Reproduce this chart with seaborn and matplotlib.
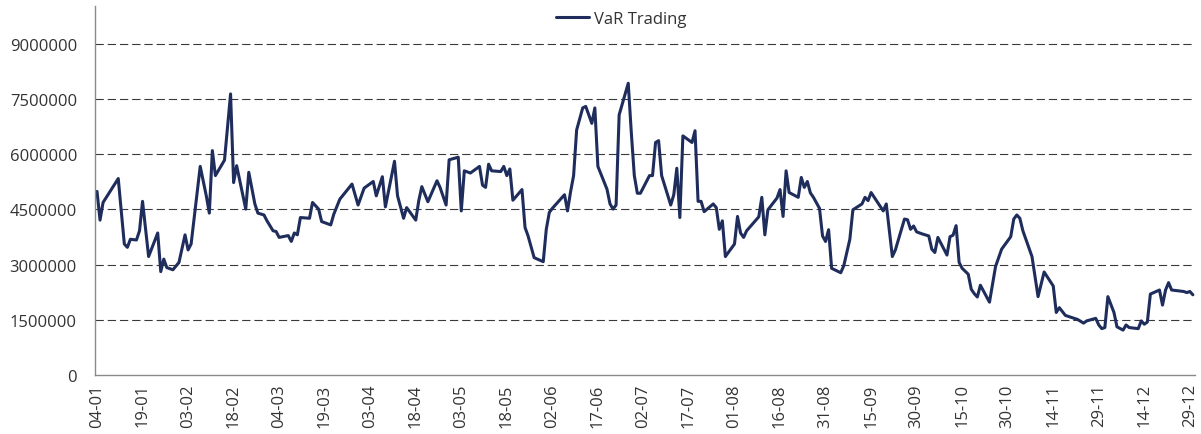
import pandas as pd
import seaborn as sns
import matplotlib
import matplotlib.pyplot as plt
import matplotlib.dates as mdates
import numpy as np

sns.set_style('white')
matplotlib.rcParams['font.family'] = ['Open Sans', 'DejaVu Sans']
matplotlib.rcParams['font.size'] = 12

# day of year (2016) and VaR value in millions
day_of_year = [4, 5, 6, 11, 13, 14, 15, 17, 18, 19, 21, 24, 25, 26, 27, 29, 31, 33, 34, 35,
               38, 40, 41, 42, 43, 46, 48, 49, 50, 53, 54, 56, 57, 59, 60, 62, 63, 64, 67, 68,
               69, 70, 71, 74, 75, 77, 78, 81, 82, 84, 88, 90, 92, 95, 96, 98, 99, 102, 103, 105,
               106, 109, 110, 111, 113, 116, 117, 119, 120, 123, 124, 125, 127, 130, 131, 132, 133, 134, 137, 138,
               139, 140, 141, 144, 145, 146, 148, 151, 152, 153, 154, 158, 159, 160, 161, 162, 164, 165, 167, 168,
               169, 172, 173, 174, 175, 176, 179, 180, 181, 182, 183, 186, 187, 188, 189, 190, 193, 194, 195, 196,
               197, 200, 201, 202, 203, 204, 207, 208, 209, 210, 211, 214, 215, 216, 217, 218, 222, 223, 224, 225,
               228, 229, 230, 231, 232, 235, 236, 237, 238, 239, 240, 242, 243, 244, 245, 246, 249, 250, 251, 252,
               253, 256, 257, 258, 259, 263, 264, 266, 267, 270, 271, 272, 273, 274, 276, 278, 279, 280, 281, 284,
               285, 286, 287, 288, 289, 291, 292, 293, 294, 295, 298, 300, 302, 305, 306, 307, 308, 309, 312, 314,
               316, 319, 320, 321, 323, 327, 329, 330, 333, 334, 335, 336, 337, 339, 340, 342, 343, 344, 347, 348,
               349, 350, 351, 354, 355, 356, 357, 358, 362, 363, 364, 365]
var_mln = [4.99, 4.21, 4.69, 5.34, 3.56, 3.47, 3.69, 3.67, 3.92, 4.72, 3.22, 3.86, 2.81, 3.15, 2.92, 2.86, 3.06, 3.81, 3.40, 3.56,
           5.67, 4.87, 4.40, 6.10, 5.42, 5.84, 7.64, 5.23, 5.69, 4.51, 5.51, 4.65, 4.40, 4.35, 4.19, 3.92, 3.90, 3.74, 3.79, 3.63,
           3.86, 3.81, 4.28, 4.26, 4.69, 4.51, 4.17, 4.08, 4.37, 4.78, 5.19, 4.62, 5.08, 5.26, 4.87, 5.39, 4.57, 5.81, 4.87, 4.26,
           4.55, 4.21, 4.74, 5.12, 4.71, 5.28, 5.10, 4.62, 5.85, 5.92, 4.46, 5.55, 5.49, 5.67, 5.16, 5.10, 5.73, 5.55, 5.53, 5.67,
           5.42, 5.60, 4.75, 5.04, 4.01, 3.78, 3.19, 3.08, 3.96, 4.42, 4.53, 4.90, 4.46, 4.98, 5.42, 6.66, 7.26, 7.30, 6.84, 7.26,
           5.67, 5.05, 4.65, 4.51, 4.62, 7.07, 7.93, 6.60, 5.42, 4.94, 4.94, 5.42, 5.42, 6.32, 6.37, 5.42, 4.62, 4.90, 5.62, 4.28,
           6.50, 6.32, 6.64, 4.72, 4.72, 4.44, 4.65, 4.55, 3.96, 4.19, 3.22, 3.56, 4.31, 3.86, 3.74, 3.92, 4.30, 4.83, 3.81, 4.49,
           4.81, 5.04, 4.31, 5.55, 4.96, 4.83, 5.37, 5.10, 5.26, 4.95, 4.83, 4.53, 3.78, 3.63, 3.95, 2.90, 2.78, 2.97, 3.33, 3.69,
           4.49, 4.65, 4.83, 4.74, 4.96, 4.46, 4.65, 3.22, 3.40, 4.24, 4.22, 3.96, 4.05, 3.89, 3.83, 3.78, 3.42, 3.33, 3.74, 3.26,
           3.76, 3.80, 4.06, 3.06, 2.90, 2.74, 2.33, 2.21, 2.12, 2.44, 1.98, 2.95, 3.42, 3.76, 4.24, 4.35, 4.26, 3.92, 3.22, 2.13,
           2.80, 2.42, 1.70, 1.83, 1.62, 1.51, 1.41, 1.47, 1.54, 1.36, 1.26, 1.29, 2.13, 1.70, 1.31, 1.22, 1.36, 1.29, 1.26, 1.47,
           1.38, 1.44, 2.20, 2.31, 1.90, 2.31, 2.51, 2.31, 2.27, 2.24, 2.27, 2.18]

y_ticks = [0, 1500000, 3000000, 4500000, 6000000, 7500000, 9000000]

start = pd.Timestamp('2016-01-01')
df = pd.DataFrame({
    'date': start + pd.to_timedelta(np.array(day_of_year) - 1, unit='D'),
    'VaR Trading': np.array(var_mln) * 1e6,
})

fig = plt.figure(figsize=(12.01, 4.35), dpi=100)
ax = fig.add_axes([95 / 1201, 1 - 376 / 435, 1100 / 1201, 369 / 435])

sns.lineplot(data=df, x='date', y='VaR Trading', ax=ax, color='#1f2d5c',
             linewidth=2.2, label='VaR Trading', legend=False)

ax.set_ylim(0, 10030000)
ax.set_xlim(start + pd.Timedelta(days=2.34), start + pd.Timedelta(days=364.7))
ax.set_yticks(y_ticks)
ax.set_yticklabels([str(t) for t in y_ticks])
xt = pd.date_range('2016-01-04', '2016-12-29', freq='15D')
ax.set_xticks(xt)
ax.xaxis.set_major_formatter(mdates.DateFormatter('%d-%m'))
plt.setp(ax.get_xticklabels(), rotation=90)

ax.set_xlabel('')
ax.set_ylabel('')
ax.tick_params(axis='both', length=0, colors='#333333', labelsize=12)
ax.tick_params(axis='y', pad=13)
ax.tick_params(axis='x', pad=6)

for t in y_ticks[1:]:
    ax.axhline(t, color='#3a3a3a', linewidth=0.8, linestyle=(0, (7.5, 3.5)), zorder=0)

for s in ['top', 'right']:
    ax.spines[s].set_visible(False)
for s in ['left', 'bottom']:
    ax.spines[s].set_color('#8a8a8a')
    ax.spines[s].set_linewidth(1.0)

handles, labels = ax.get_legend_handles_labels()
fig.legend(handles, labels, loc='center', bbox_to_anchor=(621 / 1201, 1 - 20 / 435),
           frameon=False, fontsize=12, handlelength=2.0, handletextpad=0.3,
           labelcolor='#333333')

plt.savefig('out.png', dpi=100)
